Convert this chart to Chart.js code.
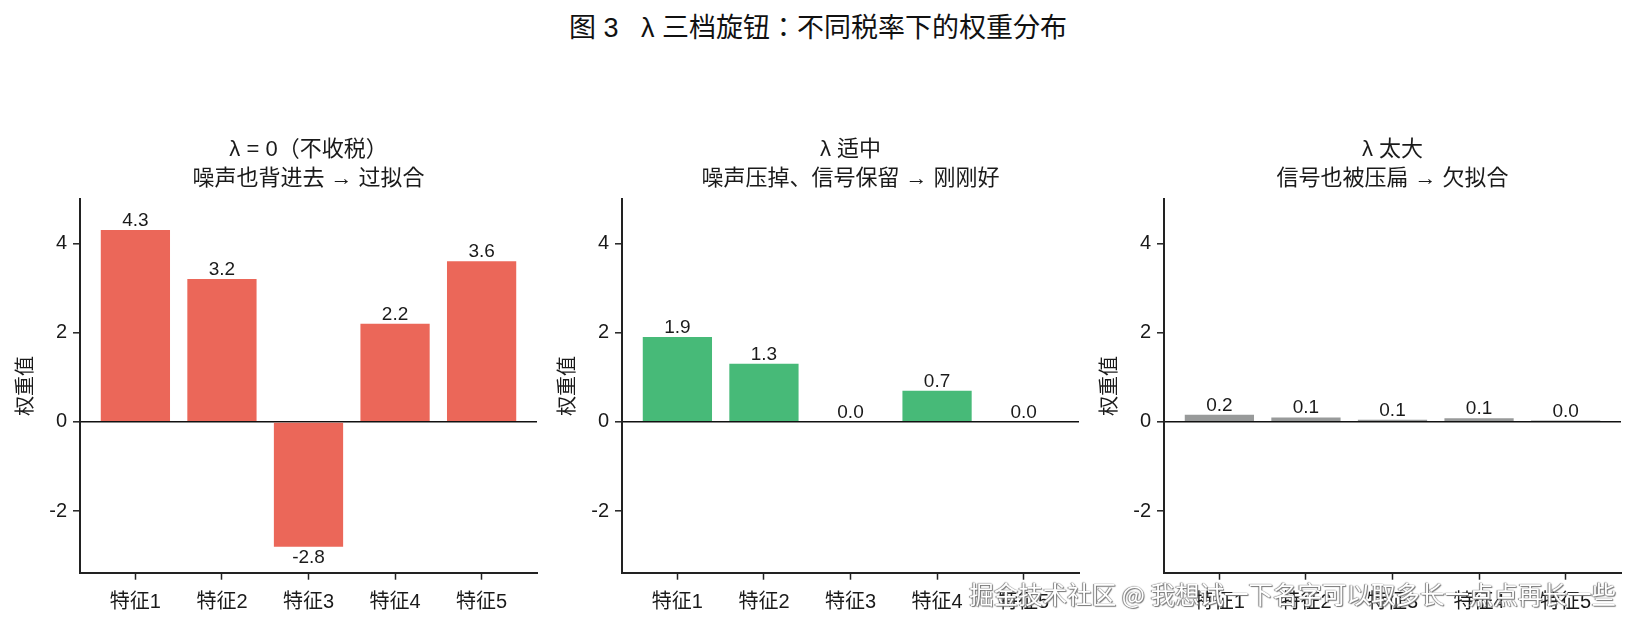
<!DOCTYPE html>
<html>
<head>
<meta charset="utf-8">
<script src="https://cdn.jsdelivr.net/npm/chart.js@4.4.1/dist/chart.umd.min.js"></script>
<style>
  html, body { margin: 0; padding: 0; background: #fff; }
  #wrap { position: relative; width: 1636px; height: 625px; overflow: hidden; }
  .panel { position: absolute; top: 0; width: 542px; height: 625px; }
  #suptitle {
    position: absolute; left: 0; top: 11px; width: 1636px; text-align: center;
    font: 27px "Liberation Sans", "Noto Sans CJK JP", sans-serif; color: #111;
    line-height: 34px;
  }
  #mark {
    position: absolute; right: 20px; top: 576px;
    font: 24.5px "Noto Sans CJK SC", sans-serif; color: #fff; white-space: nowrap;
    text-shadow: 0 0 1px #666, 1px 1px 1px #777, -1px 0 1px #888;
  }
</style>
</head>
<body>
<div id="wrap">
  <div id="suptitle">图 3&nbsp;&nbsp; λ 三档旋钮：不同税率下的权重分布</div>
  <div class="panel" style="left:0px"><canvas id="c0" width="542" height="625"></canvas></div>
  <div class="panel" style="left:542px"><canvas id="c1" width="542" height="625"></canvas></div>
  <div class="panel" style="left:1084px"><canvas id="c2" width="542" height="625"></canvas></div>
  <div id="mark">掘金技术社区 @ 我想试一下名字可以取多长一点点再长一些</div>
</div>
<script>
const features = ["特征1", "特征2", "特征3", "特征4", "特征5"];

// weights at each lambda setting
const weightsNone = [4.3, 3.2, -2.8, 2.2, 3.6];
const weightsMid = [1.9, 1.3, 0.0, 0.7, 0.0];
const weightsBig = [0.16, 0.1, 0.05, 0.08, 0.03];

const panelTitles = [
  ["λ = 0（不收税）", "噪声也背进去 → 过拟合"],
  ["λ 适中", "噪声压掉、信号保留 → 刚刚好"],
  ["λ 太大", "信号也被压扁 → 欠拟合"],
];
const barColors = ["#eb6759", "#47ba78", "#989a9a"];

const yTicks = [-2, 0, 2, 4];
const yMin = -3.38;
const yMax = 4.99;

const FONT = "'Liberation Sans', 'Noto Sans CJK JP', sans-serif";
const INK = "#1a1a1a";

// value labels above / below each bar
const barLabels = {
  id: "barLabels",
  afterDatasetsDraw(chart) {
    const ctx = chart.ctx;
    const meta = chart.getDatasetMeta(0);
    const vals = chart.data.datasets[0].data;
    ctx.save();
    ctx.font = "19px " + FONT;
    ctx.fillStyle = INK;
    ctx.textAlign = "center";
    ctx.textBaseline = "alphabetic";
    meta.data.forEach((bar, i) => {
      const v = vals[i].y;
      const txt = v.toFixed(1);
      if (v >= 0) ctx.fillText(txt, bar.x, bar.y - 4);
      else ctx.fillText(txt, bar.x, bar.y + 16);
    });
    ctx.restore();
  },
};

function makePanel(id, weights, title, color) {
  new Chart(document.getElementById(id), {
    type: "bar",
    data: {
      datasets: [{
        data: weights.map((w, i) => ({ x: i, y: w })),
        backgroundColor: color,
        borderWidth: 0,
        barPercentage: 0.8,
        categoryPercentage: 1.0,
      }],
    },
    options: {
      responsive: false,
      animation: false,
      devicePixelRatio: 1,
      layout: { padding: { left: 0, right: 5, top: 0, bottom: 0 } },
      plugins: {
        legend: { display: false },
        tooltip: { enabled: false },
        title: {
          display: true,
          fullSize: false,
          text: title,
          color: INK,
          font: { family: FONT, size: 22, weight: "normal", lineHeight: 1.3 },
          padding: { top: 136, bottom: 6 },
        },
      },
      scales: {
        x: {
          type: "linear",
          offset: false,
          min: -0.64,
          max: 4.64,
          afterBuildTicks: (axis) => { axis.ticks = features.map((f, i) => ({ value: i })); },
          afterFit: (axis) => { axis.height = 52.3; },
          ticks: {
            callback: (v) => features[v],
            color: INK,
            font: { family: FONT, size: 20 },
            padding: 11,
            maxRotation: 0,
            autoSkip: false,
          },
          grid: { offset: false, drawOnChartArea: false, drawTicks: true, tickLength: 7, tickColor: "#222", tickWidth: 1.5 },
          border: { display: true, color: "#222", width: 2 },
        },
        y: {
          min: yMin,
          max: yMax,
          afterBuildTicks: (axis) => { axis.ticks = yTicks.map((v) => ({ value: v })); },
          afterFit: (axis) => { axis.width = 80; },
          ticks: {
            color: INK,
            font: { family: FONT, size: 20 },
            padding: 6,
          },
          grid: {
            drawOnChartArea: true,
            color: (c) => (c.tick && c.tick.value === 0 ? "#111" : "rgba(0,0,0,0)"),
            lineWidth: 1.6,
            drawTicks: true,
            tickLength: 7,
            tickColor: "#222",
            tickWidth: 1.5,
          },
          border: { display: true, color: "#222", width: 2 },
          title: {
            display: true,
            text: "权重值",
            color: INK,
            font: { family: FONT, size: 20 },
            padding: { top: 14, bottom: 0 },
          },
        },
      },
    },
    plugins: [barLabels],
  });
}

makePanel("c0", weightsNone, panelTitles[0], barColors[0]);
makePanel("c1", weightsMid, panelTitles[1], barColors[1]);
makePanel("c2", weightsBig, panelTitles[2], barColors[2]);
</script>
</body>
</html>
